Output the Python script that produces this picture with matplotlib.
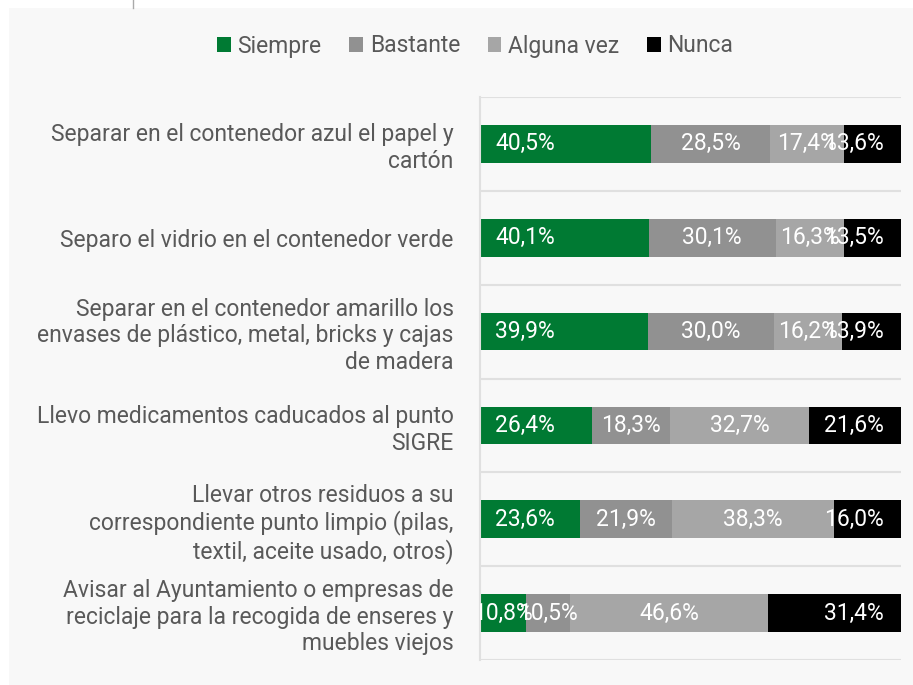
import matplotlib.pyplot as plt
from matplotlib.patches import Rectangle, Patch
from matplotlib.lines import Line2D

plt.rcParams['font.family'] = ['Roboto', 'DejaVu Sans']

categorias = [
    "Separar en el contenedor azul el papel y\ncartón",
    "Separo el vidrio en el contenedor verde",
    "Separar en el contenedor amarillo los\nenvases de plástico, metal, bricks y cajas\nde madera",
    "Llevo medicamentos caducados al punto\nSIGRE",
    "Llevar otros residuos a su\ncorrespondiente punto limpio (pilas,\ntextil, aceite usado, otros)",
    "Avisar al Ayuntamiento o empresas de\nreciclaje para la recogida de enseres y\nmuebles viejos",
]
series = ["Siempre", "Bastante", "Alguna vez", "Nunca"]
siempre = [40.5, 40.1, 39.9, 26.4, 23.6, 10.8]
bastante = [28.5, 30.1, 30.0, 18.3, 21.9, 10.5]
alguna = [17.4, 16.3, 16.2, 32.7, 38.3, 46.6]
nunca = [13.6, 13.5, 13.9, 21.6, 16.0, 31.4]
valores = [siempre, bastante, alguna, nunca]
colores = ["#007a33", "#919191", "#a6a6a6", "#000000"]

W, H = 913, 685
fig = plt.figure(figsize=(W / 100, H / 100), dpi=100, facecolor="white")

# panel gris de fondo
fig.patches.append(Rectangle((9 / W, 0), 1, 1 - 8 / H, transform=fig.transFigure,
                             facecolor="#f8f8f8", edgecolor="none", zorder=-10))
fig.add_artist(Line2D([133 / W, 133 / W], [1 - 8 / H, 1], transform=fig.transFigure,
                      color="#aaaaaa", lw=1))

ax = fig.add_axes([480 / W, 1 - 660 / H, 421 / W, 563 / H])
ax.set_facecolor("none")
ax.set_zorder(5)

n = len(categorias)
ys = list(range(n))
totales = [sum(v[i] for v in valores) for i in range(n)]

for i in range(n):
    left = 0.0
    for k, v in enumerate(valores):
        w = v[i] / totales[i]
        ax.barh(ys[i], w, left=left, height=0.4, color=colores[k], edgecolor="none")
        txt = f"{v[i]:.1f}%".replace(".", ",")
        if k == 0 and w > 0.2:
            ax.text(left + 0.036, ys[i], txt, color="white", fontsize=16.5,
                    ha="left", va="center", clip_on=True)
        elif k == 3:
            ax.text(left + w - 0.04, ys[i], txt, color="white", fontsize=16.5,
                    ha="right", va="center", clip_on=True)
        else:
            ax.text(left + w / 2, ys[i], txt, color="white", fontsize=16.5,
                    ha="center", va="center", clip_on=True)
        left += w

ax.set_xlim(0, 1)
ax.set_ylim(n - 0.5, -0.5)
for b in range(n + 1):
    ax.axhline(b - 0.5, color="#e0e0e0", lw=1.5, zorder=0)
for s in ["top", "right", "bottom"]:
    ax.spines[s].set_visible(False)
ax.spines["left"].set_color("#e0e0e0")
ax.spines["left"].set_linewidth(1.5)
ax.set_xticks([])
ax.set_yticks(ys)
ax.set_yticklabels(categorias, fontsize=16.5, color="#595959", linespacing=1.2)
ax.tick_params(axis="y", length=0, pad=19)

handles = [Patch(facecolor=c, edgecolor="none") for c in colores]
fig.legend(handles, series, loc="center", bbox_to_anchor=(475 / W, 1 - 46 / H),
           ncol=4, frameon=False, fontsize=16.5, labelcolor="#595959",
           handlelength=0.6, handleheight=0.6, handletextpad=0.3, columnspacing=1.2)

fig.savefig("out.png", dpi=100, facecolor="white")
